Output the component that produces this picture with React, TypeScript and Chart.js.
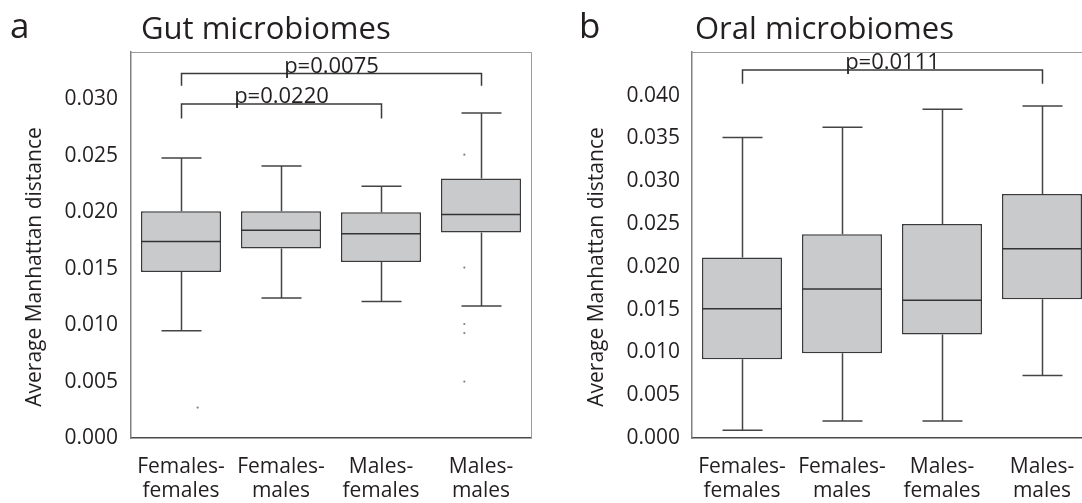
import { useEffect, useRef } from "react";
import { Chart, registerables } from "chart.js";

Chart.register(...registerables);

const FONT = "'Open Sans', 'Noto Sans', sans-serif";
const TEXT = "#231f20";
const BOX_FILL = "#c9cacc";
const BOX_EDGE = "#3a3a3a";

// Shared category labels (two-line)
const categories = [
  ["Females-", "females"],
  ["Females-", "males"],
  ["Males-", "females"],
  ["Males-", "males"],
];

// Gut microbiomes: five-number summaries per group
const gutLow = [0.0095, 0.0124, 0.0121, 0.0117];
const gutQ1 = [0.0147, 0.0168, 0.0156, 0.0182];
const gutMedian = [0.0174, 0.0184, 0.0181, 0.0198];
const gutQ3 = [0.0201, 0.0201, 0.02, 0.023];
const gutHigh = [0.0248, 0.0241, 0.0223, 0.0288];
const gutOutliers = [[0.0027], [], [], [0.0251, 0.0151, 0.0101, 0.0093, 0.005]];
const gutYMax = 0.0342;
const gutTicks = [0, 0.005, 0.01, 0.015, 0.02, 0.025, 0.03];
const gutBracketFrom = [0, 0];
const gutBracketTo = [3, 2];
const gutBracketTop = [0.0323, 0.0296];
const gutBracketDrop = [0.0312, 0.0283];
const gutBracketLabels = ["p=0.0075", "p=0.0220"];

// Oral microbiomes
const oralLow = [0.0009, 0.002, 0.002, 0.0073];
const oralQ1 = [0.0092, 0.0099, 0.0121, 0.0162];
const oralMedian = [0.0151, 0.0174, 0.0161, 0.0221];
const oralQ3 = [0.0211, 0.0238, 0.025, 0.0285];
const oralHigh = [0.0351, 0.0363, 0.0384, 0.0388];
const oralOutliers: number[][] = [[], [], [], []];
const oralYMax = 0.0451;
const oralTicks = [0, 0.005, 0.01, 0.015, 0.02, 0.025, 0.03, 0.035, 0.04];
const oralBracketFrom = [0];
const oralBracketTo = [3];
const oralBracketTop = [0.043];
const oralBracketDrop = [0.0414];
const oralBracketLabels = ["p=0.0111"];

type PanelProps = {
  letter: string;
  title: string;
  low: number[];
  q1: number[];
  median: number[];
  q3: number[];
  high: number[];
  outliers: number[][];
  yMax: number;
  ticks: number[];
  bracketFrom: number[];
  bracketTo: number[];
  bracketTop: number[];
  bracketDrop: number[];
  bracketLabels: string[];
  left: number;
  width: number;
  axisWidth: number;
  padRight: number;
  letterX: number;
  titleX: number;
  yTitleX: number;
  tickPad: number;
};

const HEIGHT = 503;

function BoxPanel(p: PanelProps) {
  const ref = useRef<HTMLCanvasElement | null>(null);

  useEffect(() => {
    const canvas = ref.current;
    if (!canvas) return;

    const decorations = {
      id: "boxDecorations",
      beforeDatasetsDraw(chart: any) {
        const { ctx } = chart;
        const xs = chart.scales.x;
        const ys = chart.scales.y;
        const band = xs.getPixelForValue(1) - xs.getPixelForValue(0);
        const capHalf = band * 0.2;
        ctx.save();
        ctx.strokeStyle = "#444444";
        ctx.lineWidth = 1.5;
        for (let i = 0; i < p.low.length; i++) {
          const cx = Math.round(xs.getPixelForValue(i)) + 0.5;
          const yl = ys.getPixelForValue(p.low[i]);
          const y1 = ys.getPixelForValue(p.q1[i]);
          const y3 = ys.getPixelForValue(p.q3[i]);
          const yh = ys.getPixelForValue(p.high[i]);
          ctx.beginPath();
          ctx.moveTo(cx, yl);
          ctx.lineTo(cx, y1);
          ctx.moveTo(cx, y3);
          ctx.lineTo(cx, yh);
          ctx.moveTo(cx - capHalf, yl);
          ctx.lineTo(cx + capHalf, yl);
          ctx.moveTo(cx - capHalf, yh);
          ctx.lineTo(cx + capHalf, yh);
          ctx.stroke();
        }
        ctx.restore();
      },
      afterDatasetsDraw(chart: any) {
        const { ctx, chartArea } = chart;
        const xs = chart.scales.x;
        const ys = chart.scales.y;
        const band = xs.getPixelForValue(1) - xs.getPixelForValue(0);
        const boxHalf = band * 0.4;
        ctx.save();
        // medians
        ctx.strokeStyle = "#333333";
        ctx.lineWidth = 1.5;
        for (let i = 0; i < p.median.length; i++) {
          const cx = xs.getPixelForValue(i);
          const ym = ys.getPixelForValue(p.median[i]);
          ctx.beginPath();
          ctx.moveTo(cx - boxHalf, ym);
          ctx.lineTo(cx + boxHalf, ym);
          ctx.stroke();
        }
        // frame (top and right)
        ctx.strokeStyle = "#9a9a9a";
        ctx.lineWidth = 1;
        ctx.beginPath();
        ctx.moveTo(chartArea.left, chartArea.top + 0.5);
        ctx.lineTo(chartArea.right + 0.5, chartArea.top + 0.5);
        ctx.lineTo(chartArea.right + 0.5, chartArea.bottom);
        ctx.stroke();
        // significance brackets
        ctx.strokeStyle = "#3a3a3a";
        ctx.lineWidth = 1.5;
        ctx.fillStyle = TEXT;
        ctx.font = `22px ${FONT}`;
        ctx.textAlign = "center";
        ctx.textBaseline = "alphabetic";
        for (let k = 0; k < p.bracketFrom.length; k++) {
          const x1 = Math.round(xs.getPixelForValue(p.bracketFrom[k])) + 0.5;
          const x2 = Math.round(xs.getPixelForValue(p.bracketTo[k])) + 0.5;
          const yt = ys.getPixelForValue(p.bracketTop[k]);
          const yd = ys.getPixelForValue(p.bracketDrop[k]);
          ctx.beginPath();
          ctx.moveTo(x1, yd);
          ctx.lineTo(x1, yt);
          ctx.lineTo(x2, yt);
          ctx.lineTo(x2, yd);
          ctx.stroke();
          ctx.fillText(p.bracketLabels[k], (x1 + x2) / 2, yt - 0.5);
        }
        ctx.restore();
      },
      afterDraw(chart: any) {
        const { ctx } = chart;
        ctx.save();
        ctx.fillStyle = TEXT;
        ctx.textBaseline = "alphabetic";
        ctx.textAlign = "left";
        ctx.font = `35px ${FONT}`;
        ctx.fillText(p.letter, p.letterX, 38);
        ctx.font = `31px ${FONT}`;
        ctx.fillText(p.title, p.titleX, 39);
        ctx.font = `21px ${FONT}`;
        ctx.translate(p.yTitleX, 267);
        ctx.rotate(-Math.PI / 2);
        ctx.textAlign = "center";
        ctx.textBaseline = "middle";
        ctx.fillText("Average Manhattan distance", 0, 0);
        ctx.restore();
      },
    };

    const points = p.outliers.flatMap((vals, i) => vals.map((y) => ({ x: i, y })));

    const chart = new Chart(canvas, {
      type: "bar",
      data: {
        labels: categories as any,
        datasets: [
          {
            type: "bar",
            data: p.q1.map((v, i) => [v, p.q3[i]]) as any,
            backgroundColor: BOX_FILL,
            borderColor: BOX_EDGE,
            borderWidth: 1.5,
            borderSkipped: false,
            categoryPercentage: 0.8,
            barPercentage: 1,
            grouped: false,
            order: 2,
          },
          {
            type: "scatter",
            data: points as any,
            xAxisID: "xo",
            pointRadius: 1.1,
            pointBackgroundColor: "#808080",
            pointBorderWidth: 0,
            order: 1,
          } as any,
        ],
      },
      options: {
        responsive: false,
        animation: false,
        events: [],
        layout: { padding: { top: 52, left: 0, right: p.padRight, bottom: 0 } },
        plugins: { legend: { display: false }, tooltip: { enabled: false } },
        scales: {
          x: {
            type: "category",
            offset: true,
            grid: { display: false, drawTicks: false },
            border: { display: true, color: "#4a4a4a", width: 1.5 },
            ticks: {
              color: TEXT,
              font: { family: FONT, size: 21, lineHeight: 1.15 },
              padding: 17,
              maxRotation: 0,
              autoSkip: false,
            },
            afterFit: (s: any) => {
              s.height = 65;
            },
          },
          xo: {
            type: "linear",
            display: false,
            min: -0.5,
            max: categories.length - 0.5,
          },
          y: {
            type: "linear",
            min: 0,
            max: p.yMax,
            grid: { display: false, drawTicks: false },
            border: { display: true, color: "#808080", width: 1.5 },
            afterBuildTicks: (s: any) => {
              s.ticks = p.ticks.map((value) => ({ value }));
            },
            ticks: {
              color: TEXT,
              font: { family: FONT, size: 21 },
              padding: p.tickPad,
              callback: (v: any) => Number(v).toFixed(3),
            },
            afterFit: (s: any) => {
              s.width = p.axisWidth;
            },
          },
        },
      } as any,
      plugins: [decorations],
    });

    return () => chart.destroy();
  }, []);

  return (
    <canvas
      ref={ref}
      width={p.width}
      height={HEIGHT}
      style={{ position: "absolute", left: p.left, top: 0, width: p.width, height: HEIGHT }}
    />
  );
}

export default function App() {
  return (
    <div
      style={{
        position: "fixed",
        left: 0,
        top: 0,
        width: 1082,
        height: HEIGHT,
        overflow: "hidden",
        background: "#ffffff",
      }}
    >
      <BoxPanel
        letter="a"
        title="Gut microbiomes"
        low={gutLow}
        q1={gutQ1}
        median={gutMedian}
        q3={gutQ3}
        high={gutHigh}
        outliers={gutOutliers}
        yMax={gutYMax}
        ticks={gutTicks}
        bracketFrom={gutBracketFrom}
        bracketTo={gutBracketTo}
        bracketTop={gutBracketTop}
        bracketDrop={gutBracketDrop}
        bracketLabels={gutBracketLabels}
        left={0}
        width={545}
        axisWidth={131}
        padRight={14}
        letterX={10}
        titleX={141}
        yTitleX={35}
        tickPad={13}
      />
      <BoxPanel
        letter="b"
        title="Oral microbiomes"
        low={oralLow}
        q1={oralQ1}
        median={oralMedian}
        q3={oralQ3}
        high={oralHigh}
        outliers={oralOutliers}
        yMax={oralYMax}
        ticks={oralTicks}
        bracketFrom={oralBracketFrom}
        bracketTo={oralBracketTo}
        bracketTop={oralBracketTop}
        bracketDrop={oralBracketDrop}
        bracketLabels={oralBracketLabels}
        left={545}
        width={560}
        axisWidth={147}
        padRight={13}
        letterX={34}
        titleX={150}
        yTitleX={52}
        tickPad={12}
      />
    </div>
  );
}
